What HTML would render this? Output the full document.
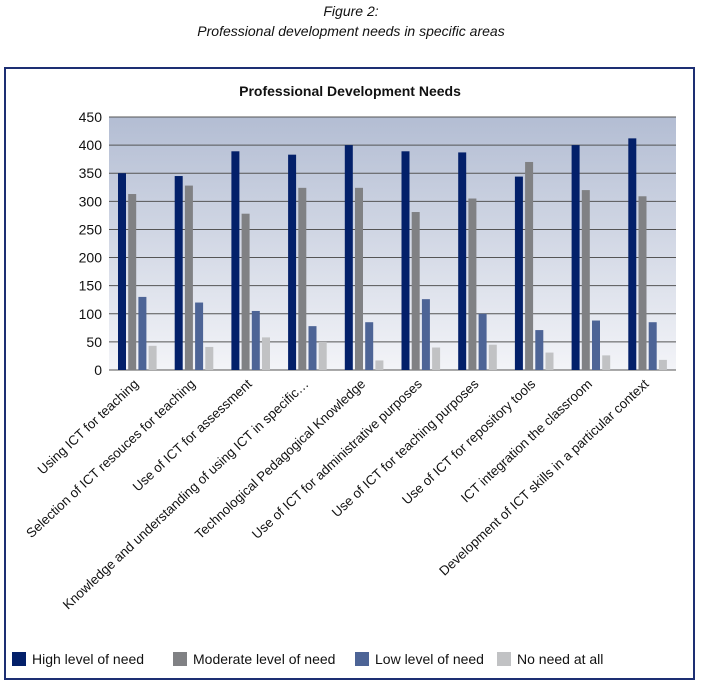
<!DOCTYPE html>
<html><head><meta charset="utf-8"><style>
body{margin:0;width:702px;height:688px;background:#fff;font-family:"Liberation Sans",sans-serif;overflow:hidden;position:relative}
.cap{position:absolute;left:0;width:702px;text-align:center;font-style:italic;font-size:14px;color:#111}
</style></head><body>
<div class="cap" style="top:3px">Figure 2:</div>
<div class="cap" style="top:23px">Professional development needs in specific areas</div>
<svg id="chart" width="702" height="688" style="position:absolute;left:0;top:0">
<defs><linearGradient id="bg" x1="0" y1="0" x2="0" y2="1"><stop offset="0" stop-color="#b3bdd3"/><stop offset="1" stop-color="#f3f4f8"/></linearGradient></defs>
<rect x="5" y="68" width="689" height="611" fill="none" stroke="#1d2f73" stroke-width="2"/>
<text x="350" y="96" text-anchor="middle" font-weight="bold" font-size="14" fill="#111">Professional Development Needs</text>
<rect x="109" y="117" width="567" height="253" fill="url(#bg)"/>
<g id="grid"></g><g id="bars"></g><g id="labels"></g><g id="legend"></g>
</svg>
<script>
const categories=["Using ICT for teaching","Selection of ICT resouces for teaching","Use of ICT for assessment","Knowledge and understanding of using ICT in specific…","Technological Pedagogical Knowledge","Use of ICT for administrative purposes","Use of ICT for teaching purposes","Use of ICT for repository tools","ICT integration the classroom","Development of ICT skills in a particular context"];
const highNeed=[350,345,389,383,400,389,387,344,400,412];
const moderateNeed=[313,328,278,324,324,281,305,370,320,309];
const lowNeed=[130,120,105,78,85,126,100,71,88,85];
const noNeed=[43,41,58,50,17,40,45,31,26,18];
const yTicks=[0,50,100,150,200,250,300,350,400,450];
const seriesNames=["High level of need","Moderate level of need","Low level of need","No need at all"];
const colors=["#03206a","#808184","#4d6496","#c1c2c4"];
const NS="http://www.w3.org/2000/svg";
const X0=109,X1=676,Y0=370,Y1=117,YMAX=450;
const y=v=>Y0-(v/YMAX)*(Y0-Y1);
const gw=(X1-X0)/categories.length;
const gx=i=>X0+i*gw;
function mk(tag,attrs,parent){const e=document.createElementNS(NS,tag);for(const k in attrs)e.setAttribute(k,attrs[k]);parent.appendChild(e);return e;}
const grid=document.getElementById('grid');
yTicks.forEach(t=>{
  const l=mk('line',{x1:X0,x2:X1,y1:y(t),y2:y(t),stroke:'#555','stroke-width':1},grid);
  
  
  const tx=mk('text',{x:X0-7,y:y(t)+5,'text-anchor':'end','font-size':14,fill:'#111'},grid);
  tx.textContent=t;
  
  
});
const bars=document.getElementById('bars');
[highNeed,moderateNeed,lowNeed,noNeed].forEach((s,si)=>{
  s.forEach((v,i)=>{
    const r=mk('rect',{x:gx(i)+9+si*10.2,y:y(v),width:8,height:Y0-y(v),fill:colors[si]},bars);
    
    
  });
});
const labels=document.getElementById('labels');
categories.forEach((c,i)=>{
  const cx=gx(i)+gw/2+2, cy=Y0+15;
  const t=mk('text',{x:cx,y:cy,'text-anchor':'end','font-size':13.3,fill:'#111',transform:`rotate(-43 ${cx} ${cy})`},labels);
  t.textContent=c;
  
  
});
const legend=document.getElementById('legend');
const lx=[12,173,355,497];
seriesNames.forEach((n,i)=>{
  const r=mk('rect',{x:lx[i],y:652,width:14,height:14,fill:colors[i]},legend);
  
  
  const t=mk('text',{x:lx[i]+20,y:664,'font-size':14,fill:'#111'},legend);
  t.textContent=n;
  
  
});
</script>
</body></html>
